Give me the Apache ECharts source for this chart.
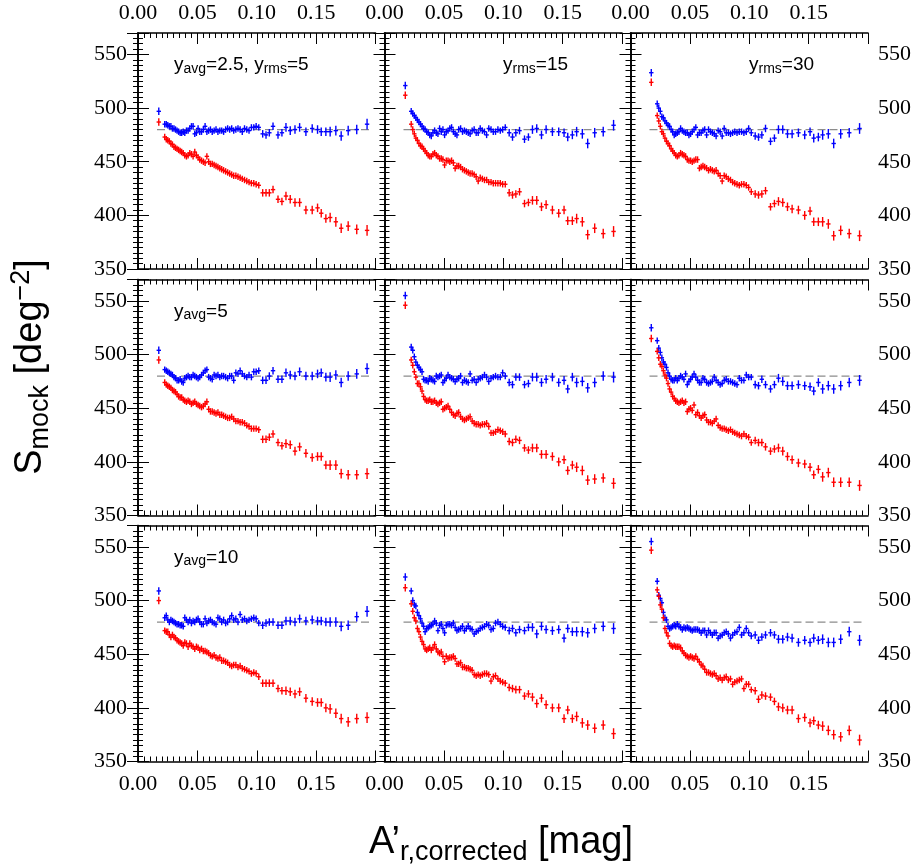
<!DOCTYPE html>
<html><head><meta charset="utf-8">
<script src="https://cdn.jsdelivr.net/npm/echarts@6/dist/echarts.min.js"></script>
<style>html,body{margin:0;padding:0;background:#fff}#c{width:916px;height:865px}</style>
</head><body><div id="c"></div>
<script>
const xBins = [0.0175,
0.0225,0.0238,0.0251,0.0264,0.0277,0.0290,0.0303,0.0316,0.0329,0.0342,
0.0355,0.0368,0.0381,0.0394,0.0408,0.0422,0.0436,0.0450,0.0464,0.0478,
0.0492,0.0506,0.0520,0.0535,0.0550,0.0565,0.0580,0.0595,0.0610,0.0625,
0.0641,0.0657,0.0673,0.0689,0.0705,0.0721,0.0738,0.0755,0.0772,0.0789,
0.0806,0.0824,0.0842,0.0860,0.0878,0.0897,0.0916,0.0935,0.0955,0.0975,
0.0995,0.1017,
0.1050,0.1078,0.1106,0.1137,0.1179,0.1212,0.1246,0.1282,0.1322,0.1361,
0.1414,0.1467,0.1512,0.1543,0.1582,0.1618,0.1666,0.1711,0.1770,0.1842,0.1929];
const yErr = [3.5,
3,3,3,3,3,3,3,3,3,3, 3,3,3,3,3,3,3,3,3,3, 3,3,3,3,3,3,3,3,3,3,
3,3,3,3,3,3,3,3,3,3, 3,3,3,3,3,3,3,3,3,3, 3,3,
3.5,3.5,3.5,3.5,3.5,3.5,4,4,4,4, 4,4,4,4,4,4.5,4.5,4.5,4.5,4.5,5];

const red11 = [487, 473,471,470,469,467,466,464,463,462,461, 460,459,458,456,455,456,458,457,455,459, 456,454,452,451,450,449,455,450,448,448, 447,446,445,444,443,442,441,440,439,438, 437,437,436,435,434,433,432,431,430,430, 429,428, 421,421,421,424,415,413,418,415,412,412, 405,405,407,402,397,398,394,388,390,387,386];
const blue11 = [497, 485,485,484,483,483,481,481,480,479,478, 477,477,478,477,479,479,481,483,483,476, 477,481,478,478,480,483,478,479,480,478, 479,480,478,479,479,478,480,481,480,481, 479,480,481,480,478,481,480,479,482,482, 483,482, 476,475,477,483,475,477,482,479,480,482, 478,481,480,478,478,478,479,474,479,480,485];
const red12 = [512, 485,480,476,472,470,467,465,464,462,460, 458,456,455,455,457,458,456,455,453,453, 452,447,451,451,450,451,449,444,446,446, 445,443,442,441,440,439,439,438,436,432, 435,434,433,433,431,431,430,430,430,430, 429,429, 421,419,420,422,411,412,414,414,408,410, 405,402,405,395,395,397,394,382,388,383,385];
const blue12 = [521, 497,495,493,491,489,487,485,483,481,480, 478,477,475,474,477,479,477,476,481,478, 480,475,478,479,481,482,478,476,475,480, 481,478,479,478,477,476,479,480,477,477, 481,479,478,475,481,480,478,478,480,479, 480,482, 477,473,477,479,471,473,480,481,475,480, 478,478,477,473,475,478,476,467,477,478,484];
const red13 = [524, 493,488,483,478,476,472,469,467,465,462, 460,458,456,455,456,458,457,456,455,452, 451,451,450,451,452,452,444,445,446,445, 444,442,443,442,441,442,439,437,432,437, 436,434,433,431,430,429,428,429,429,428, 426,422, 420,419,420,423,408,411,413,412,408,406, 405,400,404,394,394,394,392,381,386,383,381];
const blue13 = [533, 504,500,497,492,491,488,486,484,483,480, 478,475,476,477,478,481,479,478,477,477, 475,476,478,480,482,475,477,477,479,480, 475,480,478,477,476,474,479,478,474,481, 477,477,476,477,478,477,478,478,477,478, 481,477, 474,473,475,481,469,472,480,480,476,476, 477,475,478,472,473,475,476,467,476,477,481];
const red21 = [495, 474,472,471,470,469,467,466,465,463,461, 460,460,458,457,456,457,456,454,455,456, 454,453,452,451,452,454,456,449,447,447, 446,445,446,444,444,443,442,441,441,442, 440,438,438,437,437,436,434,433,431,431, 431,430, 421,421,423,426,418,415,417,416,410,414, 408,404,405,405,397,397,397,389,388,388,389];
const blue21 = [504, 486,485,484,483,482,481,479,478,476,476, 477,475,474,478,479,480,479,479,481,480, 479,478,479,481,483,485,486,479,478,477, 481,480,481,479,480,480,479,478,480,480, 476,483,482,485,482,480,479,481,479,484, 484,485, 476,476,480,485,477,477,483,481,480,484, 480,480,482,483,479,479,481,474,480,482,487];
const red22 = [546, 495,490,484,479,473,473,470,466,461,458, 457,457,458,456,456,457,455,454,455,456, 449,450,451,452,449,446,444,443,445,446, 442,440,439,440,441,442,438,436,435,435, 434,435,435,436,433,427,427,428,430,429, 428,426, 419,418,421,420,413,411,413,413,407,407, 405,400,402,392,397,395,392,383,384,385,380];
const blue22 = [555, 507,504,498,493,490,488,486,484,477,476, 476,475,478,477,476,475,480,479,480,481, 474,476,478,481,479,478,477,475,477,478, 480,474,476,475,474,482,476,477,474,477, 478,479,481,479,475,478,479,480,479,479, 483,480, 474,472,479,479,472,473,479,479,474,477, 479,474,476,468,479,474,475,469,474,480,479];
const red23 = [515, 503,497,491,489,485,481,478,473,468,465, 461,459,457,456,455,456,457,455,456,447, 449,450,448,453,444,446,443,441,443,444, 439,437,437,436,438,440,434,432,431,431, 430,429,430,428,427,426,425,424,426,424, 423,418, 420,418,418,414,410,412,413,410,405,402, 399,398,395,388,393,386,390,381,381,381,378];
const blue23 = [525, 513,506,502,497,493,491,488,483,480,477, 476,476,478,476,478,480,479,477,482,472, 475,477,479,482,479,476,474,474,478,477, 474,473,474,475,479,476,474,472,473,476, 477,475,475,474,473,472,478,476,476,481, 479,479, 472,471,477,472,468,472,478,475,471,471, 472,471,470,466,474,468,471,468,471,474,476];
const red31 = [500, 472,471,471,468,466,468,466,465,463,462, 461,460,458,461,460,457,460,458,457,455, 457,456,454,455,453,453,452,451,449,448, 449,447,446,447,444,444,443,442,440,439, 440,440,438,439,437,436,435,434,432,433, 432,429, 423,423,423,423,418,416,416,415,413,415, 409,406,405,405,400,399,395,390,387,390,391];
const blue31 = [509, 484,486,482,480,482,481,480,479,478,478, 477,477,476,484,482,480,482,479,481,480, 482,483,480,478,478,483,479,481,482,480, 479,478,484,483,480,482,479,480,483,486, 482,483,480,487,482,483,481,482,483,484, 483,479, 477,479,480,480,477,477,481,481,480,483, 481,482,481,481,480,480,480,476,477,485,490];
const red32 = [512, 497,490,484,481,474,471,466,462,459,455, 454,455,456,454,456,459,455,452,451,452, 448,443,448,446,447,447,448,446,441,441, 442,438,438,437,437,436,435,431,430,431, 430,431,432,432,431,425,429,430,427,425, 424,423, 419,418,417,417,411,413,410,404,409,403, 400,400,390,398,390,392,386,384,381,384,376];
const blue32 = [522, 509,500,496,495,489,486,483,479,476,471, 474,475,476,477,478,481,479,472,477,478, 474,470,477,478,478,477,479,475,472,473, 474,476,472,474,476,474,473,469,471,472, 474,475,476,478,477,473,474,479,480,478, 476,475, 472,474,470,473,472,475,475,469,476,473, 472,473,465,474,471,471,471,470,474,476,474];
const red33 = [547, 510,504,496,492,484,474,470,467,460,458, 457,458,457,457,457,456,453,451,449,448, 447,448,447,446,448,445,443,440,439,436, 433,433,432,431,432,430,427,428,426,428, 429,426,427,422,424,425,426,427,418,422, 422,417, 416,408,412,411,410,406,401,400,398,398, 390,391,386,388,384,383,379,375,373,379,370];
const blue33 = [555, 518,505,502,498,489,484,482,476,474,475, 476,477,476,478,476,475,473,475,474,475, 474,473,472,473,473,473,472,470,472,472, 468,472,470,468,470,470,465,467,468,470, 471,469,465,468,470,471,475,468,470,474, 470,467, 468,463,466,468,470,468,464,464,466,465, 461,463,461,465,463,464,461,461,464,471,463];

const refLevel = 480;
const refSpan = [0.016, 0.195];
const xRange = [0, 0.2];
const yRange = [350, 570];

const panelReds = [red11, red12, red13, red21, red22, red23, red31, red32, red33];
const panelBlues = [blue11, blue12, blue13, blue21, blue22, blue23, blue31, blue32, blue33];
const panelNotes = [
  '{m|y}{s|avg}{m|=2.5, y}{s|rms}{m|=5}', '{m|y}{s|rms}{m|=15}', '{m|y}{s|rms}{m|=30}',
  '{m|y}{s|avg}{m|=5}', '', '',
  '{m|y}{s|avg}{m|=10}', '', ''
];

// layout
const colLeft = [138, 384.5, 630.5];
const colW = 237.5;
const rowTop = [33, 279.5, 525.5];
const rowH = 236;
const notePos = [[174, 54], [503, 54], [749, 54], [174, 300.5], null, null, [174, 546.5], null, null];

const chart = echarts.init(document.getElementById('c'), null, {renderer: 'canvas'});
const grids = [], xAxes = [], yAxes = [], series = [], graphics = [];
const lblFont = {fontFamily: 'Liberation Serif', fontSize: 22, color: '#000'};

function mkErr(color) {
  return function (params, api) {
    const x = api.value(0), y = api.value(1), e = api.value(2);
    const c = api.coord([x, y]);
    const t = api.coord([x, y + e]);
    const b = api.coord([x, y - e]);
    return {type: 'group', children: [
      {type: 'line', shape: {x1: c[0], y1: t[1], x2: c[0], y2: b[1]}, style: {stroke: color, lineWidth: 1.4}},
      {type: 'line', shape: {x1: c[0] - 2.2, y1: c[1], x2: c[0] + 2.2, y2: c[1]}, style: {stroke: color, lineWidth: 1.4}}
    ]};
  };
}

for (let r = 0; r < 3; r++) {
  for (let c = 0; c < 3; c++) {
    const p = r * 3 + c;
    grids.push({left: colLeft[c], top: rowTop[r], width: colW, height: rowH, containLabel: false});
    const xBase = {
      type: 'value', gridIndex: p, min: xRange[0], max: xRange[1], interval: 0.05,
      axisLine: {show: true, lineStyle: {color: '#000', width: 1.6}},
      axisTick: {show: true, inside: true, length: 11, lineStyle: {color: '#000', width: 1}},
      minorTick: {show: true, splitNumber: 10, length: 5, lineStyle: {color: '#000', width: 1}},
      splitLine: {show: false}, minorSplitLine: {show: false}
    };
    xAxes.push(Object.assign({}, xBase, {position: 'bottom',
      axisLabel: Object.assign({show: r === 2, margin: 12, showMaxLabel: false,
        formatter: v => v.toFixed(2)}, lblFont)}));
    xAxes.push(Object.assign({}, xBase, {position: 'top',
      axisLabel: Object.assign({show: r === 0, margin: 9, showMaxLabel: false,
        formatter: v => v.toFixed(2)}, lblFont)}));
    const yBase = {
      type: 'value', gridIndex: p, min: yRange[0], max: yRange[1], interval: 50,
      axisLine: {show: true, lineStyle: {color: '#000', width: 1.6}},
      axisTick: {show: true, inside: true, length: 11, lineStyle: {color: '#000', width: 1}},
      minorTick: {show: true, splitNumber: 10, length: 5, lineStyle: {color: '#000', width: 1}},
      splitLine: {show: false}, minorSplitLine: {show: false}
    };
    yAxes.push(Object.assign({}, yBase, {position: 'left',
      axisLabel: Object.assign({show: c === 0, margin: 11, showMaxLabel: false}, lblFont)}));
    yAxes.push(Object.assign({}, yBase, {position: 'right',
      axisLabel: Object.assign({show: c === 2, margin: 10, showMaxLabel: false}, lblFont)}));

    series.push({
      type: 'line', xAxisIndex: 2 * p, yAxisIndex: 2 * p, symbol: 'none', silent: true, z: 1,
      data: [[refSpan[0], refLevel], [refSpan[1], refLevel]],
      lineStyle: {color: '#8c8c8c', width: 1.3, type: [8, 4]}
    });
    series.push({
      type: 'custom', xAxisIndex: 2 * p, yAxisIndex: 2 * p, z: 3,
      renderItem: mkErr('#0000ff'),
      data: xBins.map((x, i) => [x, panelBlues[p][i], yErr[i]])
    });
    series.push({
      type: 'custom', xAxisIndex: 2 * p, yAxisIndex: 2 * p, z: 4,
      renderItem: mkErr('#ff0000'),
      data: xBins.map((x, i) => [x, panelReds[p][i], yErr[i]])
    });
    if (panelNotes[p]) {
      graphics.push({
        type: 'text', x: notePos[p][0], y: notePos[p][1],
        style: {
          text: panelNotes[p], align: 'left', verticalAlign: 'top',
          rich: {
            m: {fontFamily: 'Liberation Sans', fontSize: 19, lineHeight: 22, fill: '#000'},
            s: {fontFamily: 'Liberation Sans', fontSize: 14, lineHeight: 14, verticalAlign: 'bottom', fill: '#000'}
          }
        }
      });
    }
  }
}

graphics.push({
  type: 'text', x: 501, y: 843,
  style: {
    text: '{m|A’}{s|r,corrected}{m| [mag]}', align: 'center', verticalAlign: 'middle',
    rich: {
      m: {fontFamily: 'Liberation Sans', fontSize: 38, lineHeight: 46, fill: '#000'},
      s: {fontFamily: 'Liberation Sans', fontSize: 27, lineHeight: 25, verticalAlign: 'bottom', fill: '#000'}
    }
  }
});
graphics.push({
  type: 'text', x: 31, y: 367, rotation: Math.PI / 2,
  style: {
    text: '{m|S}{s|mock}{m| [deg}{u|−2}{m|]}', align: 'center', verticalAlign: 'middle',
    rich: {
      m: {fontFamily: 'Liberation Sans', fontSize: 38, lineHeight: 46, fill: '#000'},
      s: {fontFamily: 'Liberation Sans', fontSize: 27, lineHeight: 25, verticalAlign: 'bottom', fill: '#000'},
      u: {fontFamily: 'Liberation Sans', fontSize: 27, lineHeight: 30, verticalAlign: 'top', fill: '#000'}
    }
  }
});

chart.setOption({
  animation: false,
  backgroundColor: '#fff',
  grid: grids, xAxis: xAxes, yAxis: yAxes, series: series, graphic: graphics
});
</script></body></html>
